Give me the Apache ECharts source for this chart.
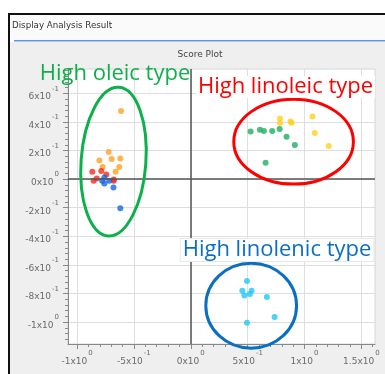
<!DOCTYPE html>
<html>
<head>
<meta charset="utf-8">
<script src="https://cdn.jsdelivr.net/npm/echarts@6/dist/echarts.min.js"></script>
<style>
  html, body { margin: 0; padding: 0; background: #fff; }
  #chart { width: 385px; height: 374px; }
</style>
</head>
<body>
<div id="chart"></div>
<script>
// Score plot groups: [t1, t2]
const oleicOrange = [[-0.614, 0.476], [-0.722, 0.189], [-0.804, 0.131], [-0.696, 0.14], [-0.62, 0.145],
  [-0.775, 0.084], [-0.629, 0.084], [-0.661, 0.051]];
const oleicRed = [[-0.866, 0.051], [-0.787, 0.056], [-0.743, 0.033], [-0.827, 0.005], [-0.855, -0.012],
  [-0.678, -0.003], [-0.678, -0.012]];
const oleicBlue = [[-0.76, 0.012], [-0.78, -0.012], [-0.76, -0.03], [-0.717, -0.012], [-0.68, -0.058],
  [-0.62, -0.203]];
const linoleicGreen = [[0.526, 0.333], [0.608, 0.345], [0.643, 0.336], [0.716, 0.336], [0.781, 0.35],
  [0.842, 0.296], [0.915, 0.238], [0.658, 0.114]];
const linoleicYellow = [[0.784, 0.424], [0.784, 0.392], [0.877, 0.403], [0.886, 0.394], [1.07, 0.438],
  [1.09, 0.322], [1.213, 0.231]];
const linolenicCyan = [[0.494, -0.713], [0.453, -0.781], [0.535, -0.781], [0.471, -0.814], [0.52, -0.804],
  [0.669, -0.825], [0.737, -0.965], [0.494, -1.005]];

// Group outlines: [centre x, centre y, half-width, half-height, tilt in degrees]
const groupOutlines = [[-0.68, 0.122, 0.285, 0.521, -4.2], [0.904, 0.262, 0.526, 0.297, 0], [0.531, -0.885, 0.399, 0.297, 0]];
const groupNames = ['High oleic type', 'High linoleic type', 'High linolenic type'];

// Axis ticks and their labels (mantissa, exponent)
const xTicks = [-1, -0.5, 0, 0.5, 1, 1.5];
const xTickLabels = [['-1x10', '0'], ['-5x10', '-1'], ['0x10', '0'], ['5x10', '-1'], ['1x10', '0'], ['1.5x10', '0']];
const yTicks = [-1, -0.8, -0.6, -0.4, -0.2, 0, 0.2, 0.4, 0.6];
const yTickLabels = [['-1x10', '0'], ['-8x10', '-1'], ['-6x10', '-1'], ['-4x10', '-1'], ['-2x10', '-1'],
  ['0x10', '0'], ['2x10', '-1'], ['4x10', '-1'], ['6x10', '-1']];
const xMinorTicks = [-1, -0.9, -0.8, -0.7, -0.6, -0.5, -0.4, -0.3, -0.2, -0.1, 0, 0.1, 0.2, 0.3, 0.4, 0.5,
  0.6, 0.7, 0.8, 0.9, 1, 1.1, 1.2, 1.3, 1.4, 1.5, 1.6];
const yMinorTicks = [-1.12, -1.08, -1.04, -1, -0.96, -0.92, -0.88, -0.84, -0.8, -0.76, -0.72, -0.68, -0.64, -0.6,
  -0.56, -0.52, -0.48, -0.44, -0.4, -0.36, -0.32, -0.28, -0.24, -0.2, -0.16, -0.12, -0.08, -0.04, 0,
  0.04, 0.08, 0.12, 0.16, 0.2, 0.24, 0.28, 0.32, 0.36, 0.4, 0.44, 0.48, 0.52, 0.56, 0.6, 0.64, 0.68, 0.72, 0.76];

const X_MIN = -1.08, X_MAX = 1.62, Y_MIN = -1.153, Y_MAX = 0.77;
const outlineColors = ['#0db04b', '#ff0000', '#0a6fc2'];

function sciLabel(ticks, labels) {
  return function (v) {
    for (let i = 0; i < ticks.length; i++) {
      if (Math.abs(ticks[i] - v) < 1e-6) return '{m|' + labels[i][0] + '}{e|' + labels[i][1] + '}';
    }
    return '';
  };
}
const richSci = {
  m: { fontFamily: 'DejaVu Sans', fontSize: 9, color: '#6a6a6a', lineHeight: 16, verticalAlign: 'bottom' },
  e: { fontFamily: 'DejaVu Sans', fontSize: 7, color: '#6a6a6a', lineHeight: 16, verticalAlign: 'top', padding: [0, 0, 0, 1] }
};

const chart = echarts.init(document.getElementById('chart'), null, { renderer: 'canvas' });

const pointStyle = (color) => ({ color: color });

chart.setOption({
  animation: false,
  backgroundColor: '#fff',
  graphic: [
    // window frame and header
    { type: 'rect', z: -10, shape: { x: 10, y: 15, width: 380, height: 26 }, style: { fill: '#fafafa' } },
    { type: 'rect', z: -10, shape: { x: 10, y: 42, width: 380, height: 340 }, style: { fill: '#efefef' } },
    { type: 'rect', z: -9, shape: { x: 8, y: 13, width: 380, height: 2 }, style: { fill: '#111' } },
    { type: 'rect', z: -9, shape: { x: 8, y: 13, width: 2, height: 370 }, style: { fill: '#111' } },
    { type: 'rect', z: -9, shape: { x: 14, y: 40, width: 380, height: 1.5 }, style: { fill: '#5b95dd' } },
    { type: 'text', z: -8, style: { x: 12, y: 26, text: 'Display Analysis Result', fill: '#333',
      font: '8.7px "DejaVu Sans"', verticalAlign: 'middle' } },
    { type: 'text', z: -8, style: { x: 200, y: 55, text: 'Score Plot', fill: '#444',
      font: '9px "DejaVu Sans"', align: 'center', verticalAlign: 'middle' } },
    // group captions
    { type: 'text', z: 50, style: { x: 115, y: 74, text: groupNames[0], fill: outlineColors[0],
      font: '22px "Open Sans"', align: 'center', verticalAlign: 'middle' } },
    { type: 'text', z: 50, style: { x: 285.5, y: 87, text: groupNames[1], fill: outlineColors[1],
      font: '22px "Open Sans"', align: 'center', verticalAlign: 'middle',
      backgroundColor: '#fff', padding: [0, 2, 0, 2] } },
    { type: 'text', z: 50, style: { x: 277, y: 250, text: groupNames[2], fill: outlineColors[2],
      font: '22px "Open Sans"', align: 'center', verticalAlign: 'middle',
      backgroundColor: '#fff', borderColor: '#e8e8e8', borderWidth: 1, padding: [0, 2, 0, 2] } }
  ],
  grid: { left: 68, top: 69, right: 10, bottom: 30, show: true, backgroundColor: '#fff', borderColor: '#d6d6d6', borderWidth: 1 },
  xAxis: [
    {
      type: 'value', min: X_MIN, max: X_MAX, position: 'bottom',
      axisLine: { show: true, onZero: false, lineStyle: { color: '#888' } },
      axisTick: { show: true, length: 5, customValues: xTicks, lineStyle: { color: '#888' } },
      axisLabel: { customValues: xTicks, formatter: sciLabel(xTicks, xTickLabels), rich: richSci, margin: 6 },
      splitLine: { show: true, lineStyle: { color: '#dedede' } }
    },
    {
      type: 'value', min: X_MIN, max: X_MAX, position: 'bottom',
      axisLine: { show: false, onZero: false },
      axisTick: { show: true, length: 3, customValues: xMinorTicks, lineStyle: { color: '#888' } },
      axisLabel: { show: false },
      splitLine: { show: false }
    }
  ],
  yAxis: [
    {
      type: 'value', min: Y_MIN, max: Y_MAX, position: 'left',
      axisLine: { show: true, onZero: false, lineStyle: { color: '#888' } },
      axisTick: { show: true, length: 5, customValues: yTicks, lineStyle: { color: '#888' } },
      axisLabel: { customValues: yTicks, formatter: sciLabel(yTicks, yTickLabels), rich: richSci, margin: 9 },
      splitLine: { show: true, lineStyle: { color: '#dedede' } }
    },
    {
      type: 'value', min: Y_MIN, max: Y_MAX, position: 'left',
      axisLine: { show: false, onZero: false },
      axisTick: { show: true, length: 3, customValues: yMinorTicks, lineStyle: { color: '#888' } },
      axisLabel: { show: false },
      splitLine: { show: false }
    }
  ],
  series: [
    {
      type: 'scatter', data: oleicOrange, symbolSize: 6, itemStyle: pointStyle('#ffa126'),
      markLine: {
        silent: true, symbol: 'none', label: { show: false },
        lineStyle: { color: '#555', width: 1.5, type: 'solid' },
        data: [{ xAxis: 0 }, { yAxis: 0 }]
      }
    },
    { type: 'scatter', data: oleicRed, symbolSize: 6, itemStyle: pointStyle('#f52a1c') },
    { type: 'scatter', data: oleicBlue, symbolSize: 6, itemStyle: pointStyle('#1467e2') },
    { type: 'scatter', data: linoleicGreen, symbolSize: 6, itemStyle: pointStyle('#1fae5f') },
    { type: 'scatter', data: linoleicYellow, symbolSize: 6, itemStyle: pointStyle('#ffd11c') },
    { type: 'scatter', data: linolenicCyan, symbolSize: 6, itemStyle: pointStyle('#1ec8f8') },
    {
      type: 'custom', z: 20, data: groupOutlines, clip: false,
      renderItem: function (params, api) {
        const c = api.coord([api.value(0), api.value(1)]);
        const e = api.coord([api.value(0) + api.value(2), api.value(1) + api.value(3)]);
        return {
          type: 'ellipse',
          shape: { cx: c[0], cy: c[1], rx: Math.abs(e[0] - c[0]), ry: Math.abs(e[1] - c[1]) },
          originX: c[0], originY: c[1], rotation: api.value(4) * Math.PI / 180,
          style: { fill: null, stroke: outlineColors[params.dataIndex], lineWidth: 3 }
        };
      }
    }
  ]
});
</script>
</body>
</html>
